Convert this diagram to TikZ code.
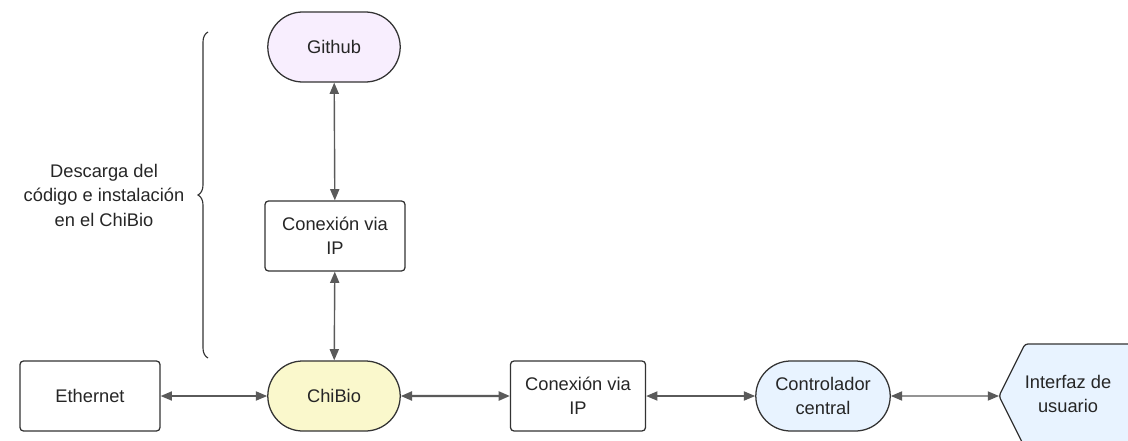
\documentclass[tikz,border=0pt]{standalone}
\usepackage{fontspec}
\setmainfont{Liberation Sans}
\usetikzlibrary{arrows.meta,shapes.misc,decorations.pathreplacing}

\begin{document}
\begin{tikzpicture}[
  x=0.025cm, y=-0.025cm,
  every node/.style={font=\fontsize{13}{17.4}\selectfont, text=black!85},
]

\definecolor{edgegray}{RGB}{51,51,51}
\definecolor{linkgray}{RGB}{90,90,90}
\definecolor{fillGit}{RGB}{248,238,254}
\definecolor{fillChi}{RGB}{250,248,204}
\definecolor{fillCtl}{RGB}{232,243,255}

\tikzset{
  boxnode/.style={draw=edgegray, line width=0.9pt, rounded corners=2.5pt,
    fill=white, minimum width=3.5cm, minimum height=1.75cm,
    align=center, inner sep=2pt},
  pillnode/.style={rounded rectangle, draw=edgegray, line width=0.9pt,
    minimum width=3.45cm, minimum height=1.75cm, align=center, inner sep=2pt},
  link/.style={linkgray, line width=1pt,
    {Triangle[length=8pt,width=6.5pt]}-{Triangle[length=8pt,width=6.5pt]}},
}

% ============================================================
% FRAME (1128 x 440 px)
% ============================================================
\path[use as bounding box, clip] (0,0) rectangle (1128,440);

% ============================================================
% NODES
% ============================================================
\node[pillnode, fill=fillGit] (github) at (334,47) {Github};
\node[boxnode] (ipTop) at (335,236) {Conexión via\\IP};
\node[pillnode, fill=fillChi] (chibio) at (334,396) {ChiBio};
\node[boxnode] (ethernet) at (90,396) {Ethernet};
\node[boxnode, minimum width=3.375cm] (ipBot) at (578,396) {Conexión via\\IP};
\node[pillnode, fill=fillCtl, minimum width=3.5cm] (control) at (823,396)
  {Controlador\\central};

% user interface: chevron cut by the right edge
\filldraw[fill=fillCtl, draw=edgegray, line width=0.9pt, rounded corners=2pt]
  (1160,344) -- (1025,344) -- (999,396) -- (1025,448) -- (1160,448);
\coordinate (ifaceTip) at (999,396);
\node[align=center] (iface) at (1068,394) {Interfaz de\\usuario};

% ============================================================
% BRACE + NOTE
% ============================================================
\draw[edgegray, line width=0.8pt,
  decorate, decoration={brace, amplitude=0.25cm}]
  (208,358) -- (208,32);
\node[align=center] (note) at (104,195)
  {Descarga del\\código e instalación\\en el ChiBio};

% ============================================================
% CONNECTORS
% ============================================================
\draw[link] (github) -- (ipTop);
\draw[link] (ipTop) -- (chibio);
\draw[link] (ethernet) -- (chibio);
\draw[link, line width=1.5pt] (chibio) -- (ipBot);
\draw[link] (ipBot) -- (control);
\draw[link] (control) -- (ifaceTip);

\end{tikzpicture}
\end{document}
